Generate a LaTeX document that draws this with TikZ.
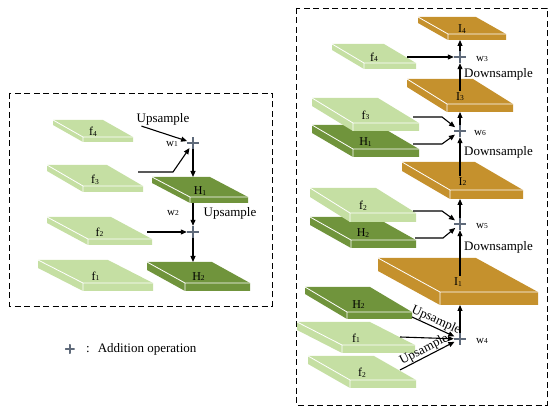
\documentclass[tikz,border=0pt]{standalone}
\usepackage{fontspec}
\setmainfont{Liberation Serif}
\usepackage{tikz}
\usetikzlibrary{arrows.meta,positioning,calc}
\definecolor{fgreen}{RGB}{197,223,163}
\definecolor{hgreen}{RGB}{112,148,60}
\definecolor{igold}{RGB}{197,145,45}
\definecolor{plusgray}{RGB}{95,106,122}
\tikzset{
  panel/.style  ={draw, dash pattern=on 6pt off 3.5pt, line width=0.9pt},
  addop/.style  ={circle, minimum size=12pt, inner sep=0pt,
                  path picture={\draw[plusgray, line width=1.8pt]
                    (path picture bounding box.west) -- (path picture bounding box.east)
                    (path picture bounding box.north) -- (path picture bounding box.south);}},
  flow/.style   ={-{Triangle[length=6pt, width=5pt]}, line width=1.1pt},
  lbl/.style    ={font=\fontsize{13}{13}\selectfont, inner sep=1pt},
  wlbl/.style   ={font=\fontsize{11}{11}\selectfont, inner sep=1pt},
  slabtxt/.style={font=\fontsize{12}{12}\selectfont, inner sep=1.5pt},
  rim/.style    ={white, line width=0.8pt}
}
\newcommand{\idx}[1]{\raisebox{-0.6pt}{\fontsize{7.5}{8}\selectfont #1}}
% name, colour, front-left x, front-left y, width, back shift x, back shift y, thickness, label
\newcommand{\slabbox}[9]{%
  \coordinate (#1-fl) at (#3,#4);
  \coordinate (#1-fr) at (#3+#5,#4);
  \coordinate (#1-bl) at (#3-#6,#4-#7);
  \coordinate (#1-br) at (#3+#5-#6,#4-#7);
  \coordinate (#1-bot) at (#3,#4+#8);
  \fill[#2] (#1-bl) -- (#1-br) -- (#1-fr) -- ++(0,#8) -- ($(#1-fl)+(0,#8)$) -- ($(#1-bl)+(0,#8)$) -- cycle;
  \draw[rim] (#1-bl) -- (#1-fl) -- (#1-fr) (#1-fl) -- ++(0,#8);
  \node[slabtxt] (#1) at ($(#1-fl)+(0.5*#5-0.5*#6,-0.3*#7)$) {#9};
}

\begin{document}
\begin{tikzpicture}[x=1pt, y=-1pt]
  \useasboundingbox (0,0) rectangle (550,411);
  % left panel
  \draw[panel] (9,93) rectangle (272,306);
  \slabbox{Lf4}{fgreen}{83}{137}{50}{30}{17}{5}{f\idx{4}}
  \slabbox{Lf3}{fgreen}{83}{186}{60}{36}{21}{6}{f\idx{3}}
  \slabbox{Lf2}{fgreen}{88}{239}{64}{41}{22}{6}{f\idx{2}}
  \slabbox{Lf1}{fgreen}{83}{283}{70}{45}{23}{8}{f\idx{1}}
  \slabbox{LH1}{hgreen}{190}{197}{58}{38}{20}{6}{H\idx{1}}
  \slabbox{LH2}{hgreen}{185}{283}{65}{38}{21}{8}{H\idx{2}}
  \node[addop] (p1) at (193,143) {};
  \node[addop] (p2) at (193,232) {};
  \node[lbl] (up1) at (163,119) {Upsample};
  \node[lbl] (up2) at (230,213) {Upsample};
  \node[wlbl] (w1) at (172,144) {w\idx{1}};
  \node[wlbl] (w2) at (173,213) {w\idx{2}};
  \draw[flow] ([xshift=6pt]up1.south west) -- (p1);
  \draw[flow] ($(Lf3-fr)+(-5,-14)$) -- ++(35,0) -- (p1);
  \draw[flow] (p1) -- (p1 |- LH1-bl);
  \draw[flow] (p2 |- LH1-bot) -- (p2);
  \draw[flow] ($(Lf2-fr)+(-5,-7)$) -- (p2);
  \draw[flow] (p2) -- (p2 |- LH2-bl);
  % legend
  \node[addop, minimum size=10pt] (legp) at (70,349) {};
  \node[lbl, anchor=west] (legt) at (85,349) {:\hspace{8pt}Addition operation};
  % right panel
  \draw[panel] (296,8) rectangle (547,405);
  \slabbox{RI4}{igold}{448}{34}{58}{30}{17}{6}{I\idx{4}}
  \slabbox{Rf4}{fgreen}{364}{63}{52}{32}{19}{6}{f\idx{4}}
  \slabbox{RI3}{igold}{447}{104}{66}{40}{25}{8}{I\idx{3}}
  \slabbox{RH1}{hgreen}{353}{149}{66}{41}{24}{8}{H\idx{1}}
  \slabbox{Rf3}{fgreen}{353}{123}{66}{41}{25}{8}{f\idx{3}}
  \slabbox{RI2}{igold}{450}{190}{73}{48}{28}{9}{I\idx{2}}
  \slabbox{RH2}{hgreen}{351}{240}{65}{41}{23}{8}{H\idx{2}}
  \slabbox{Rf2}{fgreen}{350}{213}{66}{40}{25}{9}{f\idx{2}}
  \slabbox{RI1}{igold}{440}{292}{98}{62}{34}{13}{I\idx{1}}
  \slabbox{RH2b}{hgreen}{347}{312}{65}{42}{25}{7}{H\idx{2}}
  \slabbox{Rf1}{fgreen}{342}{345}{73}{45}{23}{8}{f\idx{1}}
  \slabbox{Rf2b}{fgreen}{350}{380}{66}{42}{24}{8}{f\idx{2}}
  \node[addop] (p3) at (460,57) {};
  \node[addop] (p6) at (460,131) {};
  \node[addop] (p5) at (460,224) {};
  \node[addop] (p4) at (460,339) {};
  \node[wlbl] (w3) at (482,59) {w\idx{3}};
  \node[wlbl] (w6) at (480,133) {w\idx{6}};
  \node[wlbl] (w5) at (482,226) {w\idx{5}};
  \node[wlbl] (w4) at (482,341) {w\idx{4}};
  \node[lbl, anchor=west] (dn3) at (463,74) {Downsample};
  \node[lbl, anchor=west] (dn2) at (463,152) {Downsample};
  \node[lbl, anchor=west] (dn1) at (463,247) {Downsample};
  \draw[flow] ($(Rf4-fr)+(-9,-6)$) -- (p3);
  \draw[flow] (p3 |- RI3.north) -- (p3);
  \draw[flow] (p3) -- (p3 |- RI4-bot);
  \draw[flow] ($(Rf3-fr)+(-6,-6)$) -- ++(29,0) -- (p6);
  \draw[flow] ($(RH1-fr)+(-6,-5)$) -- ++(29,0) -- (p6);
  \draw[flow] (p6) -- (p6 |- RI3-bot);
  \draw[flow] (p6 |- RI2.north) -- (p6);
  \draw[flow] ($(Rf2-fr)+(-3,-2)$) -- ++(29,0) -- (p5);
  \draw[flow] ($(RH2-fr)+(-1,-2)$) -- ++(28,0) -- (p5);
  \draw[flow] (p5) -- (p5 |- RI2-bot);
  \draw[flow] (p5 |- RI1.north) -- (p5);
  \draw[flow] (p4) -- (p4 |- RI1-bot);
  \draw[flow] ($(RH2b-fr)+(0,5)$) -- node[lbl, sloped, above, inner sep=0.5pt]{Upsample} (p4);
  \draw[flow] ($(Rf1-fr)+(-15,-8)$) -- (p4);
  \draw[flow] ($(Rf2b-fr)+(-16,-10)$) -- node[lbl, sloped, above, inner sep=0.5pt]{Upsample} (p4);
\end{tikzpicture}
\end{document}
